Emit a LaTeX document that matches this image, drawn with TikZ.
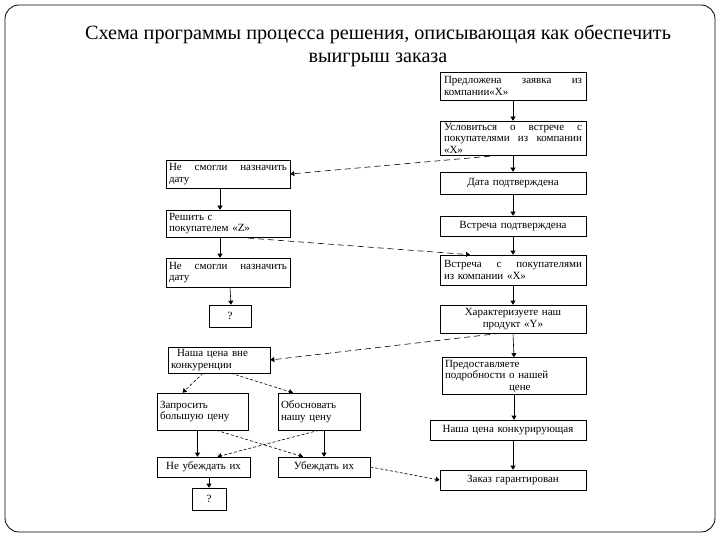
\documentclass[tikz,border=0pt]{standalone}
\usepackage{fontspec}
\setmainfont{Liberation Serif}
\usetikzlibrary{arrows.meta}
\tikzset{
  box/.style={draw, line width=0.6pt, inner xsep=3pt, inner ysep=1pt, font=\fontsize{11}{11.5}\selectfont},
  arr/.style={line width=0.6pt, -{Triangle[width=5pt,length=4pt]}},
  darr/.style={line width=0.6pt, dash pattern=on 6pt off 4pt, -{Triangle[width=5pt,length=4pt]}},
  sarr/.style={line width=0.6pt, dash pattern=on 3pt off 2pt, -{Triangle[width=5pt,length=4pt]}},
}
\begin{document}
\begin{tikzpicture}[x=1pt,y=-1pt]
\useasboundingbox (0,0) rectangle (720,540);
\draw[line width=0.8pt, rounded corners=14pt] (5,5) rectangle (715,532);
\node[font=\fontsize{20.2}{23}\selectfont, align=center] (title) at (378,46)
  {Схема программы процесса решения, описывающая как обеспечить\\выигрыш заказа};

% right column
\node[box, minimum width=146pt, minimum height=28pt, text width=138pt, align=left] (r1) at (513,86)
  {Предложена\hfill заявка\hfill из\\компании«Х»};
\node[box, minimum width=146pt, minimum height=34pt, text width=138pt, align=left] (r2) at (513,138)
  {Условиться\hfill о\hfill встрече\hfill с\\покупателями\hfill из\hfill компании\\«Х»};
\node[box, minimum width=146pt, minimum height=22pt, text width=138pt, align=center] (r3) at (513,183)
  {Дата подтверждена};
\node[box, minimum width=146pt, minimum height=20pt, text width=138pt, align=center] (r4) at (513,226)
  {Встреча подтверждена};
\node[box, minimum width=146pt, minimum height=30pt, text width=138pt, align=left] (r5) at (513,270)
  {Встреча\hfill с\hfill покупателями\\из компании «Х»};
\node[box, minimum width=146pt, minimum height=28pt, text width=138pt, align=center] (r6) at (513,319)
  {Характеризуете наш\\продукт «Y»};
\node[box, minimum width=144pt, minimum height=37pt, text width=138pt, align=left] (r7) at (514,376)
  {Предоставляете\\подробности о нашей\\\hspace*{64pt}цене};
\node[box, minimum width=156pt, minimum height=20pt, text width=150pt, align=center] (r8) at (508,430)
  {Наша цена конкурирующая};
\node[box, minimum width=146pt, minimum height=20pt, text width=138pt, align=center] (r9) at (513,480)
  {Заказ гарантирован};

\draw[arr] (r1.south) -- (r2.north);
\draw[arr] (r2.south) -- (r3.north);
\draw[arr] (r3.south) -- (r4.north);
\draw[arr] (r4.south) -- (r5.north);
\draw[arr] (r5.south) -- (r6.north);
\draw[arr] (r6.south) -- (r7.north);
\draw[arr] (r7.south) -- (r7.south |- r8.north);
\draw[arr] (r8.south -| r9.north) -- (r9.north);

% left column, upper part
\node[box, minimum width=124pt, minimum height=28pt, text width=118pt, align=left] (l1) at (228,174)
  {Не\hfill смогли\hfill назначить\\дату};
\node[box, minimum width=124pt, minimum height=27pt, text width=118pt, align=left] (l2) at (228,223.5)
  {Решить с\\покупателем «Z»};
\node[box, minimum width=124pt, minimum height=29pt, text width=118pt, align=left] (l3) at (228,272.5)
  {Не\hfill смогли\hfill назначить\\дату};
\node[box, minimum width=42pt, minimum height=22pt] (l4) at (230,316) {?};

\draw[arr] ([xshift=-8pt]l1.south) -- ([xshift=-8pt]l2.north);
\draw[arr] ([xshift=-8pt]l2.south) -- ([xshift=-8pt]l3.north);
\draw[arr] ([xshift=2pt]l3.south) -- ([xshift=1pt]l4.north);

% left column, lower part
\node[box, minimum width=102pt, minimum height=26pt, text width=96pt, align=left] (l5) at (219,360)
  {\hspace*{6pt}Наша цена вне\\конкуренции};
\node[box, minimum width=91pt, minimum height=37pt, text width=85pt, align=left] (l6) at (202.5,411.5)
  {Запросить\\большую цену};
\node[box, minimum width=82pt, minimum height=37pt, text width=76pt, align=left] (l7) at (319,411.5)
  {Обосновать\\нашу цену};
\node[box, minimum width=93pt, minimum height=20pt, text width=87pt, align=center] (l8) at (203.5,467)
  {Не убеждать их};
\node[box, minimum width=92pt, minimum height=20pt, text width=86pt, align=center] (l9) at (324,467)
  {Убеждать их};
\node[box, minimum width=34pt, minimum height=22pt] (l10) at (209,499) {?};

\draw[sarr] ([xshift=-16pt]l5.south) -- ([xshift=-20pt]l6.north);
\draw[sarr] ([xshift=12pt]l5.south) -- ([xshift=-26pt]l7.north);
\draw[arr] ([xshift=-5pt]l6.south) -- ([xshift=-5pt]l6.south |- l8.north);
\draw[arr] ([xshift=5pt]l7.south) -- ([xshift=5pt]l7.south |- l9.north);
\draw[sarr] ([xshift=14pt]l6.south) -- ([xshift=-21pt]l9.north);
\draw[sarr] ([xshift=0pt]l7.south) -- ([xshift=14pt]l8.north);
\draw[arr] (l8.south -| l10.north) -- (l10.north);
\draw[sarr] (l9.east) -- (r9.west);

% cross-column dashed connectors
\draw[darr] ([xshift=-13pt]r2.south) -- (l1.east);
\draw[darr] ([xshift=10pt]l2.south) -- ([xshift=-43pt]r5.north);
\draw[darr] ([xshift=-13pt]r6.south) -- (l5.east);
\end{tikzpicture}
\end{document}
